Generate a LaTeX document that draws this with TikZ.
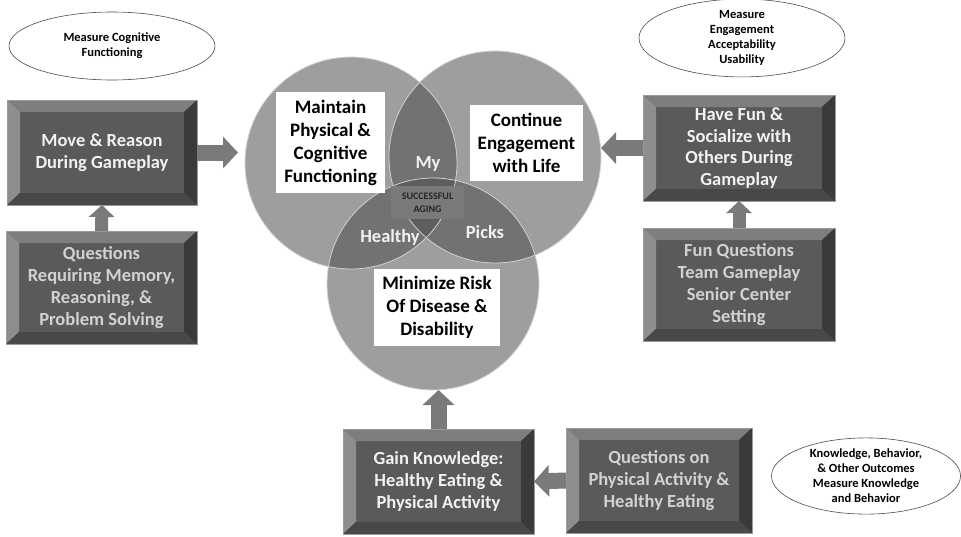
\documentclass[tikz,border=0pt]{standalone}
\usepackage{fontspec}
\setmainfont{Carlito}
\usetikzlibrary{shapes.geometric,arrows.meta}
\definecolor{face}{HTML}{5A5A5A}
\definecolor{bevT}{HTML}{7E7E7E}
\definecolor{bevL}{HTML}{8E8E8E}
\definecolor{bevR}{HTML}{3A3A3A}
\definecolor{bevB}{HTML}{484848}
\definecolor{bevline}{HTML}{9A9A9A}
\definecolor{vennc}{HTML}{9E9E9E}
\definecolor{pairc}{HTML}{727272}
\definecolor{triplec}{HTML}{5E5E5E}
\definecolor{arrowc}{HTML}{7A7A7A}
\definecolor{txtlight}{HTML}{F2F2F2}
\definecolor{txtgray}{HTML}{D2D2D2}
\newcommand\bevelparts{%
  \fill[bevT] (path picture bounding box.north west) -- (path picture bounding box.north east)
    -- ([shift={(-13pt,-12pt)}]path picture bounding box.north east)
    -- ([shift={(13pt,-12pt)}]path picture bounding box.north west) -- cycle;
  \fill[bevL] (path picture bounding box.north west) -- (path picture bounding box.south west)
    -- ([shift={(13pt,12pt)}]path picture bounding box.south west)
    -- ([shift={(13pt,-12pt)}]path picture bounding box.north west) -- cycle;
  \fill[bevR] (path picture bounding box.north east) -- (path picture bounding box.south east)
    -- ([shift={(-13pt,12pt)}]path picture bounding box.south east)
    -- ([shift={(-13pt,-12pt)}]path picture bounding box.north east) -- cycle;
  \fill[bevB] (path picture bounding box.south west) -- (path picture bounding box.south east)
    -- ([shift={(-13pt,12pt)}]path picture bounding box.south east)
    -- ([shift={(13pt,12pt)}]path picture bounding box.south west) -- cycle;
}
\tikzset{
  bevbox/.style={rectangle, inner sep=0pt, outer sep=0pt, fill=face, draw=bevline,
    line width=0.6pt, align=center, font=\bfseries\fontsize{18.5}{21.8}\selectfont,
    path picture={\bevelparts}},
  outtxt/.style={text=txtlight},
  intxt/.style={text=txtgray},
  venn/.style={circle, minimum size=212pt, inner sep=0pt, outer sep=0pt, fill=vennc},
  whitebox/.style={rectangle, fill=white, inner sep=0pt, align=center,
    font=\bfseries\fontsize{19}{23}\selectfont},
  vlabel/.style={text=txtlight, font=\bfseries\fontsize{18.5}{20}\selectfont},
  oval/.style={ellipse, draw=black!70, line width=0.6pt, fill=white, inner sep=0pt,
    align=center, font=\bfseries\fontsize{12.5}{15}\selectfont},
  fatarrow/.style={draw=arrowc, line width=16pt, -{Triangle[length=15pt,width=31pt]}},
  thinarrow/.style={draw=arrowc, line width=13pt, -{Triangle[length=12pt,width=25pt]}},
}
\begin{document}
\begin{tikzpicture}[x=1pt,y=-1pt]
\useasboundingbox (0,0) rectangle (961,536);

% Venn circles
\node[venn] (c1) at (351,163) {};
\node[venn] (c2) at (495,157) {};
\node[venn] (c3) at (433,284) {};
\begin{scope}
  \clip (c1.center) circle[radius=106pt];
  \fill[pairc] (c2.center) circle[radius=106pt];
  \fill[pairc] (c3.center) circle[radius=106pt];
\end{scope}
\begin{scope}
  \clip (c2.center) circle[radius=106pt];
  \fill[pairc] (c3.center) circle[radius=106pt];
\end{scope}
\begin{scope}
  \clip (c1.center) circle[radius=106pt];
  \clip (c2.center) circle[radius=106pt];
  \fill[triplec] (c3.center) circle[radius=106pt];
\end{scope}
\foreach \c in {c1,c2,c3}
  \draw[black!18, line width=0.8pt] (\c.center) circle[radius=106pt];

% White label boxes
\node[whitebox, minimum width=109pt, minimum height=101pt] (mt) at (330.5,142.5)
  {Maintain\\Physical \&\\Cognitive\\Functioning};
\node[whitebox, minimum width=113pt, minimum height=76pt] (ce) at (526.5,143)
  {Continue\\Engagement\\with Life};
\node[whitebox, minimum width=126pt, minimum height=77pt] (mn) at (437,307.5)
  {Minimize Risk\\Of Disease \&\\Disability};

\node[rectangle, fill=black!52, minimum width=73pt, minimum height=33pt, inner sep=0pt,
  align=center, text=black!85, font=\bfseries\fontsize{10}{13}\selectfont] (sa) at (427.5,202.5)
  {SUCCESSFUL\\AGING};
\node[vlabel] (my) at (428,164) {My};
\node[vlabel] (hl) at (390,237) {Healthy};
\node[vlabel] (pk) at (485,232) {Picks};

% Bevelled boxes
\node[bevbox, outtxt, minimum width=190pt, minimum height=105pt] (mr) at (102,152.5)
  {Move \& Reason\\During Gameplay};
\node[bevbox, intxt, minimum width=191pt, minimum height=113pt] (qr) at (101.5,287.5)
  {Questions\\Requiring Memory,\\Reasoning, \&\\Problem Solving};
\node[bevbox, outtxt, minimum width=192pt, minimum height=106pt] (hf) at (739,148)
  {Have Fun \&\\Socialize with\\Others During\\Gameplay};
\node[bevbox, intxt, minimum width=192pt, minimum height=113pt] (fq) at (739,284.5)
  {Fun Questions\\Team Gameplay\\Senior Center\\Setting};
\node[bevbox, outtxt, minimum width=191pt, minimum height=105pt] (gk) at (438.5,481.5)
  {Gain Knowledge:\\Healthy Eating \&\\Physical Activity};
\node[bevbox, intxt, minimum width=186pt, minimum height=105pt] (qp) at (659,480.5)
  {Questions on\\Physical Activity \&\\Healthy Eating};

% Ovals
\node[oval, minimum width=206pt, minimum height=68pt] (e1) at (112,46)
  {Measure Cognitive\\Functioning};
\node[oval, minimum width=206pt, minimum height=74pt] (e2) at (742,38)
  {Measure\\Engagement\\Acceptability\\Usability};
\node[oval, minimum width=189pt, minimum height=67pt] (e3) at (866,476)
  {Knowledge, Behavior,\\\& Other Outcomes\\Measure Knowledge\\and Behavior};

% Arrows
\draw[fatarrow] (mr.east) -- ([xshift=-7pt]mr.east -| c1.west);
\draw[thinarrow] (qr.north) -- (mr.south);
\draw[fatarrow] (hf.west) -- (hf.west -| c2.east);
\draw[thinarrow] (fq.north) -- (hf.south);
\draw[fatarrow] (gk.north) -- (gk.north |- c3.south);
\draw[fatarrow] (qp.west) -- (gk.east);
\end{tikzpicture}
\end{document}
